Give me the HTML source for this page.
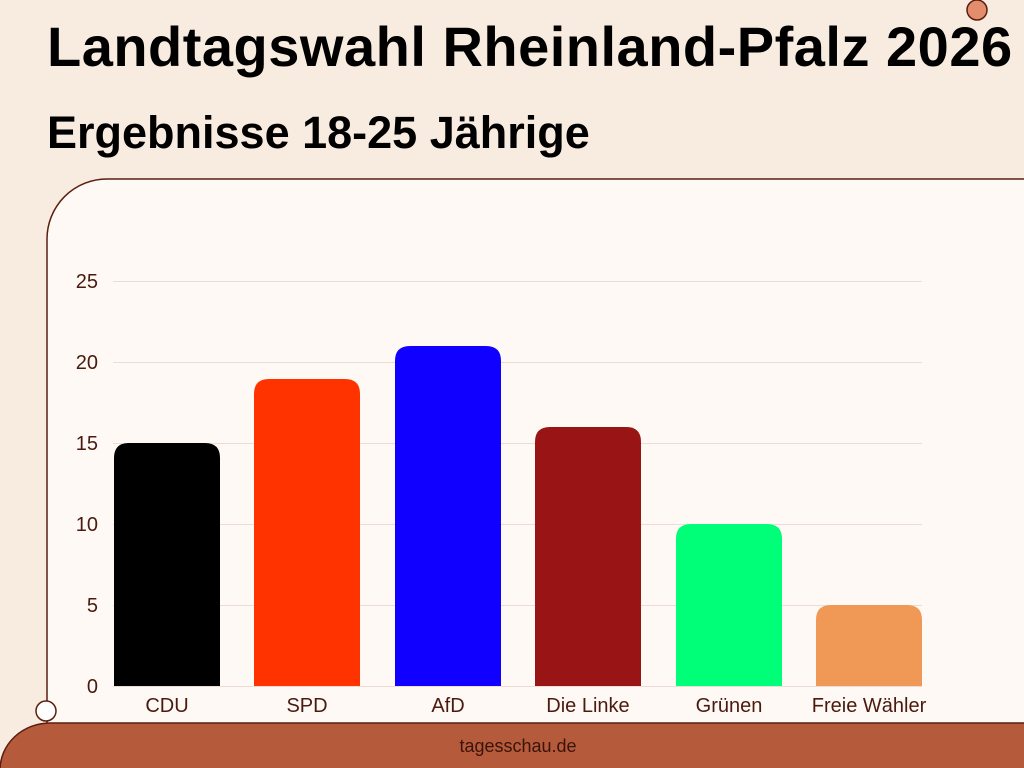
<!DOCTYPE html>
<html><head><meta charset="utf-8"><style>
body{margin:0;width:1024px;height:768px;overflow:hidden;background:#f8ebdf;font-family:"Liberation Sans",sans-serif;position:relative}
.t{position:absolute;left:47px;font-weight:bold;color:#000;white-space:nowrap}
</style></head><body>
<div class="t" style="top:14px;font-size:56px;letter-spacing:0.5px">Landtagswahl Rheinland-Pfalz 2026</div>
<div class="t" style="top:107px;font-size:45px">Ergebnisse 18-25 Jährige</div>
<svg width="1024" height="768" style="position:absolute;left:0;top:0">
<circle cx="977" cy="10" r="10" fill="#e48d6c" stroke="#5a1e10" stroke-width="1.5"/>
<path d="M47,768 V239 A60,60 0 0 1 107,179 H1030 V768 Z" fill="#fef9f5" stroke="#5a1e10" stroke-width="1.5"/>
<g stroke="#ecdcd6" stroke-width="1">
<line x1="113" x2="922" y1="281.5" y2="281.5"/><line x1="113" x2="922" y1="362.5" y2="362.5"/><line x1="113" x2="922" y1="443.5" y2="443.5"/><line x1="113" x2="922" y1="524.5" y2="524.5"/><line x1="113" x2="922" y1="605.5" y2="605.5"/><line x1="113" x2="922" y1="686.5" y2="686.5"/>
</g>
<g font-size="20" fill="#4a1a0e" text-anchor="end" font-family="Liberation Sans">
<text x="98" y="288">25</text><text x="98" y="369">20</text><text x="98" y="450">15</text><text x="98" y="531">10</text><text x="98" y="612">5</text><text x="98" y="693">0</text>
</g>
<g>
<path d="M114,686 V458 Q114,443 129,443 H205 Q220,443 220,458 V686Z" fill="#000"/>
<path d="M254,686 V394 Q254,379 269,379 H345 Q360,379 360,394 V686Z" fill="#ff3300"/>
<path d="M395,686 V361 Q395,346 410,346 H486 Q501,346 501,361 V686Z" fill="#1000ff"/>
<path d="M535,686 V442 Q535,427 550,427 H626 Q641,427 641,442 V686Z" fill="#991414"/>
<path d="M676,686 V539 Q676,524 691,524 H767 Q782,524 782,539 V686Z" fill="#00ff78"/>
<path d="M816,686 V620 Q816,605 831,605 H907 Q922,605 922,620 V686Z" fill="#f09856"/>
</g>
<g font-size="20" fill="#4a1a0e" text-anchor="middle" font-family="Liberation Sans">
<text x="167" y="712">CDU</text><text x="307" y="712">SPD</text><text x="448" y="712">AfD</text><text x="588" y="712">Die Linke</text><text x="729" y="712">Grünen</text><text x="869" y="712">Freie Wähler</text>
</g>
<path d="M0,770 A50,47 0 0 1 50,723 H1030 V770 Z" fill="#b55a3a" stroke="#5a1e10" stroke-width="1.5"/>
<circle cx="46" cy="711" r="10" fill="#fff" stroke="#5a1e10" stroke-width="1.5"/>
<text x="518" y="752" font-size="18" fill="#3a140a" text-anchor="middle" font-family="Liberation Sans">tagesschau.de</text>
</svg>
</body></html>
